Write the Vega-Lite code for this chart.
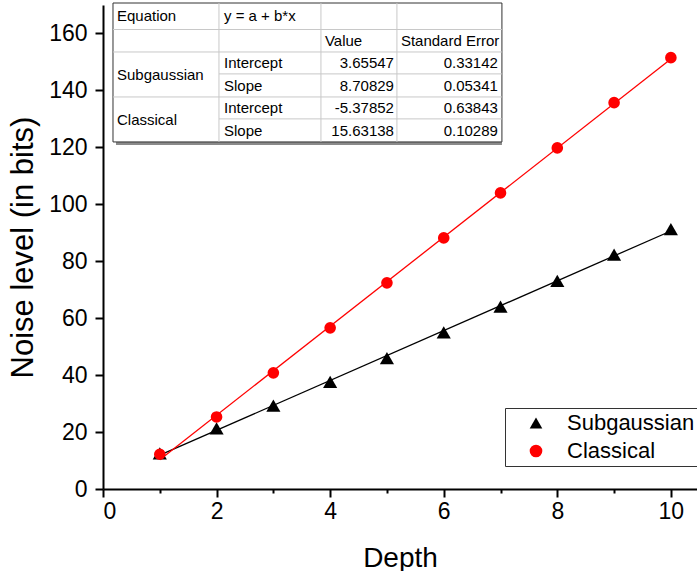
{
  "$schema": "https://vega.github.io/schema/vega-lite/v6.json",
  "width": 594,
  "height": 484,
  "autosize": "none",
  "padding": {"left": 103, "top": 5, "right": 0, "bottom": 82},
  "background": "white",
  "config": {
    "font": "Liberation Sans",
    "view": {"stroke": null},
    "axis": {
      "grid": false,
      "domainColor": "black",
      "domainWidth": 2,
      "tickColor": "black",
      "tickWidth": 2,
      "labelColor": "black",
      "titleColor": "black",
      "labelFont": "Liberation Sans",
      "titleFont": "Liberation Sans",
      "titleFontWeight": "normal"
    },
    "legend": {
      "orient": "none",
      "legendX": 402,
      "legendY": 403,
      "strokeColor": "#333",
      "fillColor": "white",
      "padding": 4,
      "labelFont": "Liberation Sans",
      "labelColor": "black",
      "labelFontSize": 22,
      "rowPadding": 6,
      "symbolOffset": 16,
      "labelOffset": 20,
      "symbolSize": 160
    }
  },
  "datasets": {
    "points": [
      {"Depth": 1, "Noise": 12.5, "series": "Subgaussian"},
      {"Depth": 2, "Noise": 21.3, "series": "Subgaussian"},
      {"Depth": 3, "Noise": 29.3, "series": "Subgaussian"},
      {"Depth": 4, "Noise": 37.6, "series": "Subgaussian"},
      {"Depth": 5, "Noise": 46.0, "series": "Subgaussian"},
      {"Depth": 6, "Noise": 55.0, "series": "Subgaussian"},
      {"Depth": 7, "Noise": 64.1, "series": "Subgaussian"},
      {"Depth": 8, "Noise": 73.1, "series": "Subgaussian"},
      {"Depth": 9, "Noise": 82.3, "series": "Subgaussian"},
      {"Depth": 10, "Noise": 91.3, "series": "Subgaussian"},
      {"Depth": 1, "Noise": 12.2, "series": "Classical"},
      {"Depth": 2, "Noise": 25.3, "series": "Classical"},
      {"Depth": 3, "Noise": 40.8, "series": "Classical"},
      {"Depth": 4, "Noise": 56.6, "series": "Classical"},
      {"Depth": 5, "Noise": 72.4, "series": "Classical"},
      {"Depth": 6, "Noise": 88.2, "series": "Classical"},
      {"Depth": 7, "Noise": 104.0, "series": "Classical"},
      {"Depth": 8, "Noise": 119.8, "series": "Classical"},
      {"Depth": 9, "Noise": 135.7, "series": "Classical"},
      {"Depth": 10, "Noise": 151.5, "series": "Classical"}
    ],
    "cells": [
      {"kind": "text", "cx": 0.246, "cy": 166.2, "label": "Equation"},
      {"kind": "text", "cx": 0.246, "cy": 145.4, "label": "Subgaussian"},
      {"kind": "text", "cx": 0.246, "cy": 129.6, "label": "Classical"},
      {"kind": "text", "cx": 2.13, "cy": 166.2, "label": "y = a + b*x"},
      {"kind": "text", "cx": 2.13, "cy": 149.6, "label": "Intercept"},
      {"kind": "text", "cx": 2.13, "cy": 141.6, "label": "Slope"},
      {"kind": "text", "cx": 2.13, "cy": 133.8, "label": "Intercept"},
      {"kind": "text", "cx": 2.13, "cy": 125.8, "label": "Slope"},
      {"kind": "text", "cx": 3.908, "cy": 157.4, "label": "Value"},
      {"kind": "text", "cx": 5.246, "cy": 157.4, "label": "Standard Error"},
      {"kind": "number", "cx": 5.123, "cy": 149.6, "label": "3.65547"},
      {"kind": "number", "cx": 5.123, "cy": 141.6, "label": "8.70829"},
      {"kind": "number", "cx": 5.123, "cy": 133.8, "label": "-5.37852"},
      {"kind": "number", "cx": 5.123, "cy": 125.8, "label": "15.63138"},
      {"kind": "number", "cx": 6.954, "cy": 149.6, "label": "0.33142"},
      {"kind": "number", "cx": 6.954, "cy": 141.6, "label": "0.05341"},
      {"kind": "number", "cx": 6.954, "cy": 133.8, "label": "0.63843"},
      {"kind": "number", "cx": 6.954, "cy": 125.8, "label": "0.10289"}
    ],
    "hlines": [
      {"ly": 161.4, "lx1": 0.176, "lx2": 7.025},
      {"ly": 153.5, "lx1": 0.176, "lx2": 7.025},
      {"ly": 145.8, "lx1": 2.042, "lx2": 7.025},
      {"ly": 137.7, "lx1": 0.176, "lx2": 7.025},
      {"ly": 130.0, "lx1": 2.042, "lx2": 7.025}
    ],
    "vlines": [
      {"lx": 2.042, "ly1": 121.9, "ly2": 170.7},
      {"lx": 3.838, "ly1": 121.9, "ly2": 170.7},
      {"lx": 5.176, "ly1": 121.9, "ly2": 170.7}
    ],
    "box": [
      {"bx1": 0.176, "bx2": 7.025, "by1": 121.9, "by2": 170.7}
    ]
  },
  "layer": [
    {
      "data": {"name": "points"},
      "transform": [
        {"filter": "datum.series === 'Subgaussian'"},
        {"regression": "Noise", "on": "Depth", "method": "linear", "extent": [1, 10]}
      ],
      "mark": {"type": "line", "strokeWidth": 1.3, "color": "black"},
      "encoding": {
        "x": {"field": "Depth", "type": "quantitative"},
        "y": {"field": "Noise", "type": "quantitative"}
      }
    },
    {
      "data": {"name": "points"},
      "transform": [
        {"filter": "datum.series === 'Classical'"},
        {"regression": "Noise", "on": "Depth", "method": "linear", "extent": [1, 10]}
      ],
      "mark": {"type": "line", "strokeWidth": 1.3, "color": "#ff0000"},
      "encoding": {
        "x": {"field": "Depth", "type": "quantitative"},
        "y": {"field": "Noise", "type": "quantitative"}
      }
    },
    {
      "data": {"name": "points"},
      "transform": [{"filter": "datum.series === 'Subgaussian'"}],
      "mark": {"type": "point", "filled": true, "opacity": 1, "size": 200},
      "encoding": {
        "x": {
          "field": "Depth", "type": "quantitative",
          "scale": {"domain": [0, 10.46], "nice": false, "zero": false},
          "axis": {
            "values": [0, 1, 2, 3, 4, 5, 6, 7, 8, 9, 10],
            "format": "d",
            "labelExpr": "datum.value % 2 === 0 ? datum.label : ''",
            "tickSize": {"condition": {"test": "datum.value % 2 === 0", "value": 8}, "value": 4},
            "labelFontSize": 23, "labelPadding": 3,
            "title": "Depth", "titleFontSize": 28, "titlePadding": 21
          }
        },
        "y": {
          "field": "Noise", "type": "quantitative",
          "scale": {"domain": [0, 170], "nice": false, "zero": false},
          "axis": {
            "values": [0, 10, 20, 30, 40, 50, 60, 70, 80, 90, 100, 110, 120, 130, 140, 150, 160, 170],
            "format": "d",
            "labelExpr": "datum.value % 20 === 0 ? datum.label : ''",
            "tickSize": {"condition": {"test": "datum.value % 20 === 0", "value": 8}, "value": 4},
            "labelFontSize": 23, "labelPadding": 8,
            "title": "Noise level (in bits)", "titleFontSize": 31, "titlePadding": 9
          }
        },
        "color": {
          "field": "series", "type": "nominal",
          "scale": {"domain": ["Subgaussian", "Classical"], "range": ["black", "#ff0000"]},
          "legend": {"title": null}
        },
        "shape": {
          "field": "series", "type": "nominal",
          "scale": {"domain": ["Subgaussian", "Classical"], "range": ["triangle-up", "circle"]},
          "legend": {"title": null}
        }
      }
    },
    {
      "data": {"name": "points"},
      "transform": [{"filter": "datum.series === 'Classical'"}],
      "mark": {"type": "point", "filled": true, "opacity": 1, "size": 135},
      "encoding": {
        "x": {"field": "Depth", "type": "quantitative"},
        "y": {"field": "Noise", "type": "quantitative"},
        "color": {"field": "series", "type": "nominal", "legend": {"title": null}},
        "shape": {"field": "series", "type": "nominal", "legend": {"title": null}}
      }
    },
    {
      "data": {"name": "box"},
      "mark": {"type": "rect", "fill": "#8a8a8a", "xOffset": 3, "yOffset": 3},
      "encoding": {
        "x": {"field": "bx1", "type": "quantitative"},
        "x2": {"field": "bx2"},
        "y": {"field": "by1", "type": "quantitative"},
        "y2": {"field": "by2"}
      }
    },
    {
      "data": {"name": "box"},
      "mark": {"type": "rect", "fill": "white", "stroke": "#333", "strokeWidth": 1},
      "encoding": {
        "x": {"field": "bx1", "type": "quantitative"},
        "x2": {"field": "bx2"},
        "y": {"field": "by1", "type": "quantitative"},
        "y2": {"field": "by2"}
      }
    },
    {
      "data": {"name": "hlines"},
      "mark": {"type": "rule", "color": "#c8c8c8", "strokeWidth": 1},
      "encoding": {
        "x": {"field": "lx1", "type": "quantitative"},
        "x2": {"field": "lx2"},
        "y": {"field": "ly", "type": "quantitative"}
      }
    },
    {
      "data": {"name": "vlines"},
      "mark": {"type": "rule", "color": "#c8c8c8", "strokeWidth": 1},
      "encoding": {
        "x": {"field": "lx", "type": "quantitative"},
        "y": {"field": "ly1", "type": "quantitative"},
        "y2": {"field": "ly2"}
      }
    },
    {
      "data": {"name": "cells"},
      "transform": [{"filter": "datum.kind === 'text'"}],
      "mark": {"type": "text", "align": "left", "baseline": "middle", "fontSize": 15, "font": "Liberation Sans", "color": "black"},
      "encoding": {
        "x": {"field": "cx", "type": "quantitative"},
        "y": {"field": "cy", "type": "quantitative"},
        "text": {"field": "label"}
      }
    },
    {
      "data": {"name": "cells"},
      "transform": [{"filter": "datum.kind === 'number'"}],
      "mark": {"type": "text", "align": "right", "baseline": "middle", "fontSize": 15, "font": "Liberation Sans", "color": "black"},
      "encoding": {
        "x": {"field": "cx", "type": "quantitative"},
        "y": {"field": "cy", "type": "quantitative"},
        "text": {"field": "label"}
      }
    }
  ]
}
